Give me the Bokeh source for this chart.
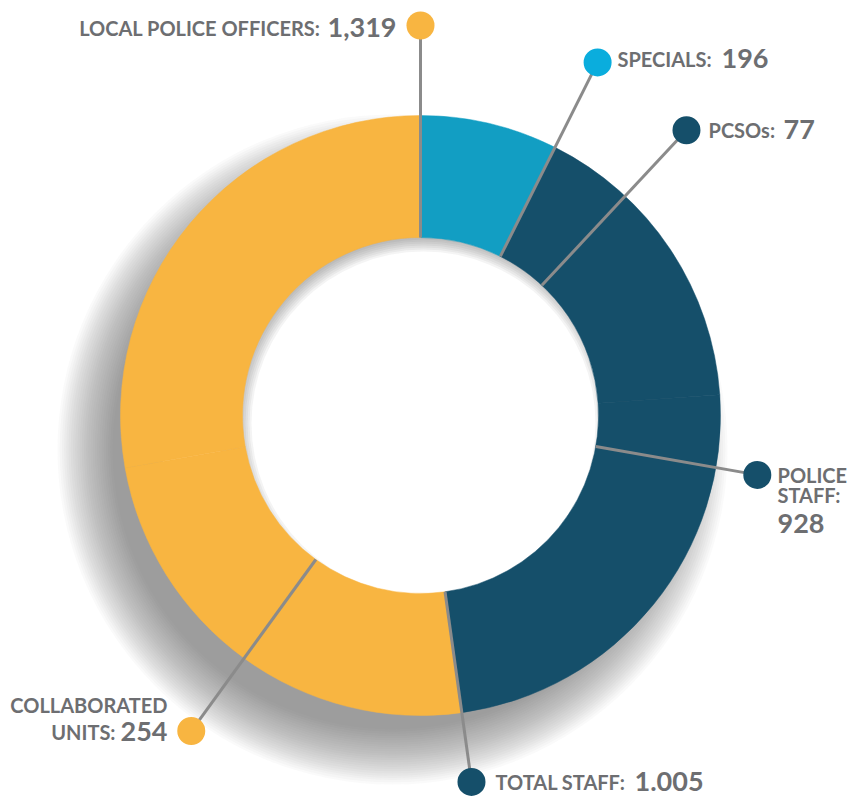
import math
from bokeh.plotting import figure
from bokeh.models import ColumnDataSource, Range1d
from bokeh.core.properties import value
from bokeh.embed import file_html
from bokeh.resources import INLINE

# ---------------- data ----------------
categories = ["Specials", "PCSOs", "Police staff", "Collaborated units", "Local police officers"]
arc_share = [7.4, 16.5, 23.9, 24.4, 27.8]          # share of the ring as drawn (%)
slice_colors = ["#129EC3", "#154F6A", "#154F6A", "#F8B541", "#F8B541"]

label_names = ["LOCAL POLICE OFFICERS", "SPECIALS", "PCSOs", "POLICE STAFF", "TOTAL STAFF", "COLLABORATED UNITS"]
label_values = ["1,319", "196", "77", "928", "1.005", "254"]
dot_colors = ["#F8B541", "#0AADDD", "#154F6A", "#154F6A", "#154F6A", "#F8B541"]

# ---------------- layout ----------------
W, H = 848, 798
CX, CY = 420, H - 415
R_OUT, R_IN = 300, 178
TEXT_COLOR = "#6D6E71"
LINE_COLOR = "#8B8B8B"
FONT = "Lato"
BASE_SHIFT = 9   # renderer places alphabetic baseline lower than requested

def Y(py):
    return H - py

p = figure(width=W, height=H, x_range=Range1d(0, W), y_range=Range1d(0, H),
           output_backend="svg", toolbar_location=None, min_border=0)
p.axis.visible = False
p.grid.visible = False
p.outline_line_color = None
p.background_fill_color = "white"

# outer drop shadow (offset to lower-left, blurred)
sx, sy = CX - 28, CY - 34
N = 26
for k in range(N):
    p.annulus(x=[sx], y=[sy], inner_radius=230, outer_radius=280 + 2.2 * k,
              fill_color="#6a6a6a", fill_alpha=0.03, line_color=None)

# inset shadow inside the hole
ix, iy = CX + 3, CY - 8
for k in range(8):
    p.annulus(x=[ix], y=[iy], inner_radius=172 + 2 * k, outer_radius=205,
              fill_color="#404040", fill_alpha=0.06, line_color=None)

# ring
cum = [0.0]
for s in arc_share:
    cum.append(cum[-1] + s)
starts = [math.pi / 2 - 2 * math.pi * c / 100 for c in cum[:-1]]
ends = [math.pi / 2 - 2 * math.pi * c / 100 for c in cum[1:]]
src = ColumnDataSource(dict(cat=categories, start=starts, end=ends, color=slice_colors))
p.annular_wedge(x=CX, y=CY, inner_radius=R_IN, outer_radius=R_OUT,
                start_angle="start", end_angle="end", direction="clock",
                fill_color="color", line_color="color", line_width=0.5, source=src)

# leader lines + dots
lead_deg = [0.0, cum[1] * 3.6, 43.0, 100.0, cum[3] * 3.6, 216.0]
lead_r = [390, 395, 390, 342, 370, 390]
dx, dy, x0s, y0s = [], [], [], []
for a, r in zip(lead_deg, lead_r):
    t = math.radians(a)
    x0s.append(CX + R_IN * math.sin(t)); y0s.append(CY + R_IN * math.cos(t))
    dx.append(CX + r * math.sin(t)); dy.append(CY + r * math.cos(t))
p.segment(x0=x0s, y0=y0s, x1=dx, y1=dy, line_color=LINE_COLOR, line_width=3)
p.scatter(x=dx, y=dy, size=28, fill_color=dot_colors, line_color=None)

# labels
def txt(s, x, py, size, align):
    p.text(x=[x], y=[Y(py - BASE_SHIFT)], text=[s], text_font=value(FONT), text_font_style="bold",
           text_font_size=f"{size}px", text_color=TEXT_COLOR, text_align=align,
           text_baseline="alphabetic")

LS, NS = 20, 27
txt(label_names[0] + ":", 320, 36, LS, "right"); txt(label_values[0], 327, 36, NS, "left")
txt(label_names[1] + ":", 617, 67, LS, "left");  txt(label_values[1], 721, 67, NS, "left")
txt(label_names[2] + ":", 708, 138, LS, "left"); txt(label_values[2], 783, 138, NS, "left")
ps = label_names[3].split(" ")
txt(ps[0], 777, 483, LS, "left"); txt(ps[1] + ":", 777, 503, LS, "left")
txt(label_values[3], 777, 532, NS, "left")
txt(label_names[4] + ":", 495, 790, LS, "left"); txt(label_values[4], 634, 790, NS, "left")
cu = label_names[5].split(" ")
txt(cu[0], 167, 713, LS, "right"); txt(cu[1] + ":", 115, 740, LS, "right")
txt(label_values[5], 167, 740, NS, "right")

open("out.html", "w").write(file_html(p, INLINE))
